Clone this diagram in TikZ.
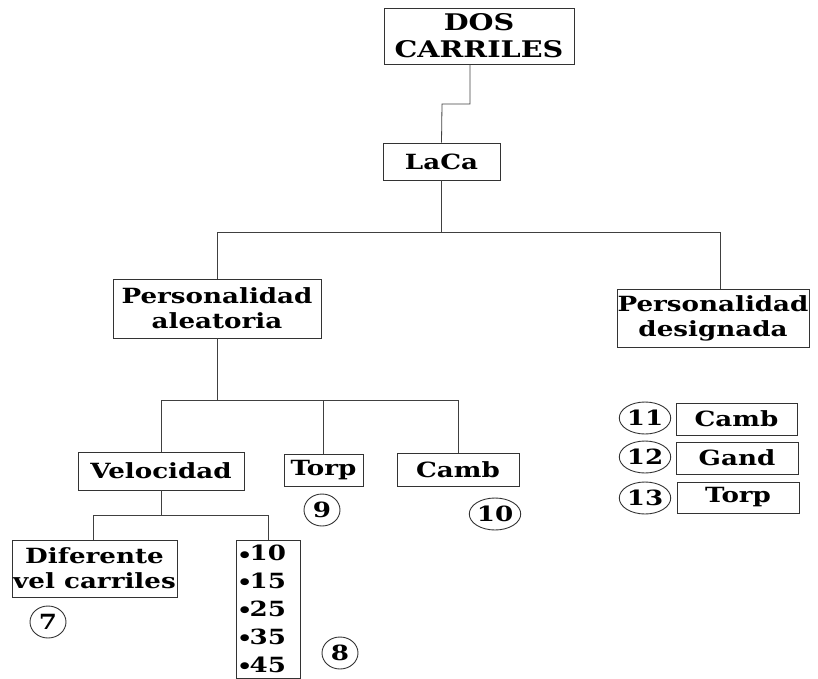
\documentclass[tikz,border=0pt]{standalone}
\usepackage{fontspec}
\setmainfont{DejaVu Serif}[FakeStretch=1.25]
\usetikzlibrary{shapes.geometric}
\newcommand{\bul}{\raisebox{0.35ex}{\fontsize{9}{9}\selectfont●}}
\begin{document}
\begin{tikzpicture}[x=1bp,y=-1bp,
  every node/.style={font=\fontsize{21}{25}\selectfont\bfseries},
  bx/.style={draw=black!80,line width=0.9bp,inner sep=0pt,align=center},
  num/.style={draw=black!80,line width=0.9bp,ellipse,minimum width=36bp,minimum height=32bp,inner sep=0pt},
  ln/.style={draw=black!75,line width=0.8bp}]
\useasboundingbox (0,0) rectangle (818,679);
% boxes
\node[bx,minimum width=190bp,minimum height=56bp,font=\fontsize{23}{27}\selectfont\bfseries] (dos) at (479,36) {DOS\\CARRILES};
\node[bx,minimum width=117bp,minimum height=37bp] (laca) at (441.5,161.5) {LaCa};
\node[bx,minimum width=208bp,minimum height=59bp] (alea) at (217,308.5) {Personalidad\\aleatoria};
\node[bx,minimum width=192bp,minimum height=58bp] (desig) at (713,318) {Personalidad\\designada};
\node[bx,minimum width=166bp,minimum height=38bp] (velo) at (161,471) {Velocidad};
\node[bx,minimum width=79bp,minimum height=32bp] (torp) at (323.5,470) {Torp};
\node[bx,minimum width=122bp,minimum height=33bp] (camb) at (458,469.5) {Camb};
\node[bx,minimum width=165bp,minimum height=57bp] (dif) at (94.5,568.5) {Diferente\\vel carriles};
\node[bx,minimum width=64bp,minimum height=138bp,align=left,font=\fontsize{21}{28}\selectfont\bfseries] (nums) at (268,609) {\bul10\\\bul15\\\bul25\\\bul35\\\bul45\hspace*{10bp}};
\node[bx,minimum width=121bp,minimum height=32bp] (cambb) at (736.5,419) {Camb};
\node[bx,minimum width=122bp,minimum height=32bp] (gand) at (737,458) {Gand};
\node[bx,minimum width=122bp,minimum height=31bp] (torpb) at (738,497.5) {Torp};
% circled numbers
\node[num] (n7) at (48,622) {7};
\node[num] (n8) at (340,653) {8};
\node[num] (n9) at (322,510) {9};
\node[num] (n10) at (495,514) {10};
\node[num] (n11) at (645,418) {11};
\node[num] (n12) at (645,457) {12};
\node[num] (n13) at (645,498) {13};
% connectors
\coordinate (j1) at (442,104);
\draw[ln] ([xshift=-9bp]dos.south) |- (j1) -- (laca.north);
\coordinate (b1) at (0,232);
\coordinate (dtop) at ([xshift=7bp]desig.north);
\draw[ln] (laca.south) -- (laca.south |- b1);
\draw[ln] (alea.north) |- (dtop |- b1) -- (dtop);
\coordinate (b2) at (0,400);
\draw[ln] (alea.south) -- (alea.south |- b2);
\draw[ln] (velo.north) |- (camb.north |- b2) -- (camb.north);
\draw[ln] (torp.north) -- (torp.north |- b2);
\coordinate (b3) at (0,515);
\draw[ln] (velo.south) -- (velo.south |- b3);
\draw[ln] ([xshift=-1.5bp]dif.north) |- (nums.north |- b3) -- (nums.north);
\end{tikzpicture}
\end{document}
